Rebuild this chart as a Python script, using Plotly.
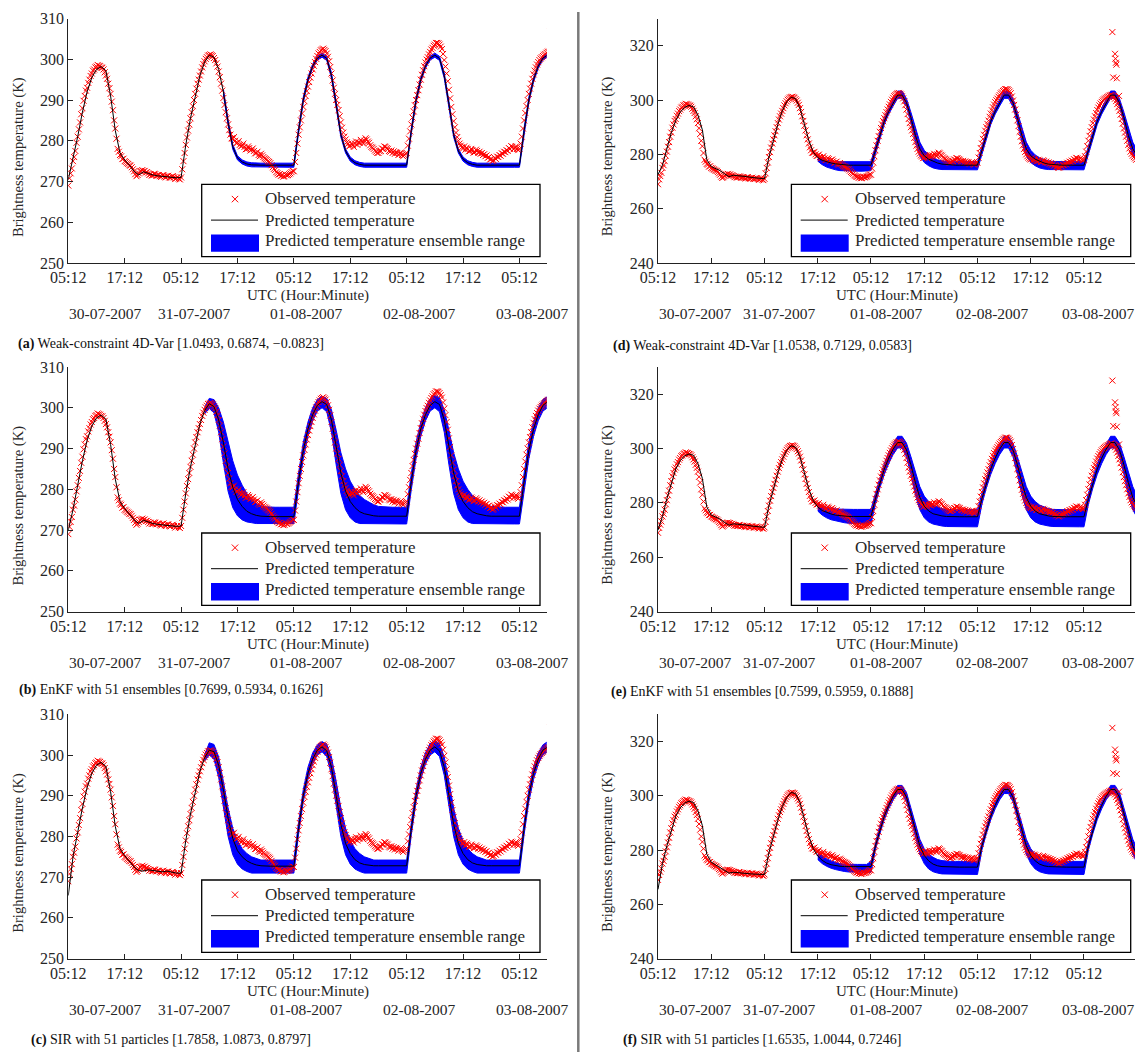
import plotly.graph_objects as go

W, H = 1135, 1052
FONT = "Liberation Serif"
TXT = "#262626"

# ---------------- axis labels ----------------
TICK_HOURS = [0, 12, 24, 36, 48, 60, 72, 84, 96]          # hours after 30-07-2007 05:12 UTC
TICK_TEXT = ["05:12", "17:12", "05:12", "17:12", "05:12", "17:12", "05:12", "17:12", "05:12"]
DATE_TEXT = ["30-07-2007", "31-07-2007", "01-08-2007", "02-08-2007", "03-08-2007"]
LEFT_Y_TICKS = [250, 260, 270, 280, 290, 300, 310]
RIGHT_Y_TICKS = [240, 260, 280, 300, 320]

# ---------------- observations (every 15 min from 05:12 on 30-07) ----------------
OBS_STEP_H = 0.25
OBS_TEMP = [
    # 30-07
    269.0, 270.8, 272.0, 273.2, 275.0, 276.0, 277.5, 279.5, 281.0, 282.8, 284.5, 286.5,
    288.0, 289.8, 291.0, 292.3, 293.0, 294.2, 295.0, 295.9, 296.5, 297.2, 297.5, 298.0,
    298.2, 298.6, 298.4, 298.3, 298.0, 297.9, 297.5, 296.8, 296.0, 295.2, 294.0, 292.9,
    291.5, 289.6, 287.5, 285.0, 283.0, 280.5, 278.0, 277.3, 276.5, 276.2, 275.5, 275.6,
    275.0, 274.8, 274.5, 274.3, 274.0, 273.9, 273.5, 273.0, 272.5, 271.8, 271.3, 271.6,
    272.0, 272.5, 272.6, 272.8, 272.5, 272.6, 272.2, 272.3, 272.0, 271.6, 271.8, 271.5,
    271.5, 271.9, 271.8, 271.4, 271.5, 271.6, 271.3, 271.1, 271.5, 271.6, 271.2, 271.0,
    271.3, 271.4, 271.0, 270.9, 271.2, 271.3, 271.0, 270.6, 270.8, 271.1, 270.7, 270.5,
    # 31-07
    271.0, 273.0, 275.0, 277.0, 279.0, 280.8, 282.5, 284.0, 285.5, 287.0, 288.5, 290.0,
    291.5, 292.8, 294.0, 295.0, 296.0, 297.0, 298.0, 298.8, 299.5, 300.1, 300.5, 300.9,
    301.0, 301.2, 301.0, 300.8, 300.3, 299.8, 299.0, 298.2, 297.0, 295.6, 294.0, 292.3,
    290.5, 288.8, 287.0, 285.5, 284.0, 282.6, 281.5, 280.6, 280.5, 280.9, 280.0, 279.4,
    279.5, 279.9, 279.0, 278.6, 278.8, 279.3, 278.5, 277.9, 278.0, 278.6, 278.2, 277.6,
    277.8, 278.1, 277.5, 276.9, 277.0, 277.3, 276.5, 276.2, 276.8, 276.4, 276.0, 275.7,
    275.5, 275.3, 275.0, 274.8, 274.5, 274.0, 273.5, 273.1, 272.8, 272.3, 272.0, 271.7,
    271.8, 271.4, 271.5, 271.2, 271.3, 271.7, 271.5, 271.6, 271.8, 272.0, 272.3, 272.6,
    # 01-08
    272.5, 274.8, 277.0, 279.3, 281.5, 283.3, 285.0, 286.7, 288.3, 289.7, 291.0, 292.2,
    293.3, 294.4, 295.5, 296.5, 297.5, 298.4, 299.3, 300.1, 300.8, 301.4, 301.8, 302.2,
    302.4, 302.6, 302.3, 302.0, 301.4, 300.6, 299.5, 298.1, 296.5, 294.8, 293.0, 291.5,
    290.0, 288.8, 287.5, 286.0, 284.5, 283.2, 282.0, 281.0, 280.3, 279.6, 279.2, 278.6,
    278.8, 279.4, 279.0, 278.5, 279.3, 279.8, 279.0, 279.6, 279.5, 280.2, 279.8, 279.3,
    280.0, 280.6, 280.3, 279.8, 279.5, 278.9, 278.5, 278.3, 278.0, 277.6, 277.3, 277.0,
    277.0, 277.4, 277.5, 278.1, 278.0, 278.6, 278.5, 278.2, 278.0, 277.5, 277.3, 277.6,
    277.0, 277.4, 276.8, 277.2, 277.0, 276.5, 276.8, 277.1, 276.5, 276.2, 276.5, 276.8,
    # 02-08
    277.0, 278.8, 280.5, 282.3, 284.0, 285.7, 287.2, 288.7, 290.0, 291.2, 292.4, 293.8,
    295.0, 296.2, 297.3, 298.3, 299.2, 299.9, 300.5, 301.2, 301.8, 302.4, 302.8, 303.3,
    303.6, 304.0, 304.0, 303.9, 303.6, 303.1, 302.5, 301.3, 299.8, 298.2, 296.5, 294.6,
    292.5, 290.4, 288.3, 286.5, 284.8, 283.3, 282.0, 280.9, 280.0, 279.3, 278.8, 278.4,
    278.1, 278.6, 277.8, 278.3, 278.0, 277.4, 277.5, 278.0, 277.7, 277.1, 277.2, 277.8,
    277.5, 277.0, 277.3, 276.8, 277.0, 276.5, 276.7, 276.2, 276.4, 275.8, 276.0, 275.4,
    275.5, 275.0, 275.2, 275.8, 275.5, 276.1, 276.0, 276.5, 276.3, 276.9, 276.8, 277.3,
    277.2, 277.7, 277.5, 278.2, 278.0, 278.7, 278.5, 277.9, 278.2, 278.6, 278.0, 277.7,
    # 03-08
    278.0, 279.3, 281.0, 283.0, 285.0, 286.8, 288.5, 290.0, 291.5, 292.8, 294.0, 295.2,
    296.3, 297.2, 298.0, 298.7, 299.3, 299.8, 300.2, 300.5, 300.8, 301.1, 301.3, 301.6,
    301.8, 301.9, 301.5, 301.1, 300.5, 299.6, 298.5, 297.3, 296.0, 294.6, 293.0, 291.3,
    289.5, 288.0, 286.5, 285.0, 283.5, 282.2, 281.0, 280.2, 279.5, 279.0, 278.5, 278.0,
]
OUTLIER_HOURS = [102.4, 102.6, 103.0, 103.1, 103.2, 103.3, 103.4, 103.9]
OUTLIER_TEMP = [325.0, 308.3, 317.0, 315.2, 313.7, 313.0, 308.0, 301.5]

# ---------------- predictions (hourly from 05:12 on 30-07) ----------------
# (a) Weak-constraint 4D-Var, left
A_PRED = [
    270.5, 275.5, 281.0, 287.0, 292.0, 295.5, 297.5, 298.2, 297.2, 291.0, 282.5, 277.0,
    275.3, 274.0, 272.5, 271.6, 272.4, 272.0, 271.6, 271.4, 271.3, 271.2, 271.0, 270.9,
    271.0, 279.0, 285.5, 291.0, 296.0, 299.3, 301.0, 300.5, 297.5, 292.0, 284.5, 278.5,
    275.8, 274.8, 274.3, 274.1, 274.0, 274.0, 274.0, 274.0, 274.0, 274.0, 274.0, 274.0,
    274.0, 282.5, 290.0, 295.0, 298.3, 300.3, 301.0, 300.2, 296.0, 289.0, 281.5, 277.5,
    275.5, 274.6, 274.2, 274.0, 274.0, 274.0, 274.0, 274.0, 274.0, 274.0, 274.0, 274.0,
    274.0, 282.5, 290.0, 295.0, 298.3, 300.3, 301.0, 300.2, 296.0, 289.0, 281.5, 277.5,
    275.5, 274.6, 274.2, 274.0, 274.0, 274.0, 274.0, 274.0, 274.0, 274.0, 274.0, 274.0,
    274.0, 282.5, 290.0, 295.0, 298.3, 300.3, 301.0,
]
A_BAND_START = 33
A_LO = [
    291.3, 283.8, 277.9, 275.3, 274.3, 273.8, 273.6, 273.5, 273.5, 273.5, 273.5, 273.5, 273.5, 273.5, 273.5,
    273.5, 281.8, 289.3, 294.4, 297.8, 299.8, 300.5, 299.7, 295.3, 288.3, 280.9, 277.0,
    275.0, 274.1, 273.7, 273.5, 273.5, 273.5, 273.5, 273.5, 273.5, 273.5, 273.5, 273.5,
    273.5, 281.8, 289.3, 294.4, 297.8, 299.8, 300.5, 299.7, 295.3, 288.3, 280.9, 277.0,
    275.0, 274.1, 273.7, 273.5, 273.5, 273.5, 273.5, 273.5, 273.5, 273.5, 273.5, 273.5,
    273.5, 281.8, 289.3, 294.4, 297.8, 299.8, 300.5,
]
A_HI = [
    292.7, 285.2, 279.1, 276.3, 275.3, 274.8, 274.6, 274.5, 274.5, 274.5, 274.5, 274.5, 274.5, 274.5, 274.5,
    274.5, 283.2, 290.7, 295.6, 298.8, 300.8, 301.5, 300.7, 296.7, 289.7, 282.1, 278.0,
    276.0, 275.1, 274.7, 274.5, 274.5, 274.5, 274.5, 274.5, 274.5, 274.5, 274.5, 274.5,
    274.5, 283.2, 290.7, 295.6, 298.8, 300.8, 301.5, 300.7, 296.7, 289.7, 282.1, 278.0,
    276.0, 275.1, 274.7, 274.5, 274.5, 274.5, 274.5, 274.5, 274.5, 274.5, 274.5, 274.5,
    274.5, 283.2, 290.7, 295.6, 298.8, 300.8, 301.5,
]

# (b) EnKF 51 ensembles, left
B_PRED = [
    270.0, 275.0, 281.0, 287.0, 292.0, 295.5, 297.5, 298.2, 297.2, 291.0, 282.5, 277.0,
    275.3, 274.0, 272.5, 271.6, 272.4, 272.0, 271.6, 271.4, 271.3, 271.2, 271.0, 270.9,
    271.0, 279.0, 285.5, 291.0, 296.0, 299.3, 301.0, 300.3, 297.0, 291.5, 285.0, 280.5,
    277.5, 275.8, 274.6, 274.0, 273.6, 273.4, 273.3, 273.3, 273.3, 273.3, 273.3, 273.3,
    273.3, 282.0, 289.5, 294.8, 298.3, 300.6, 301.5, 300.8, 297.0, 290.5, 284.0, 279.5,
    277.0, 275.5, 274.5, 274.0, 273.7, 273.5, 273.4, 273.4, 273.4, 273.4, 273.4, 273.4,
    273.4, 282.0, 289.5, 294.8, 298.3, 300.6, 301.5, 300.8, 297.0, 290.5, 284.0, 279.5,
    277.0, 275.5, 274.5, 274.0, 273.7, 273.5, 273.4, 273.4, 273.4, 273.4, 273.4, 273.4,
    273.4, 282.0, 289.5, 294.8, 298.3, 300.6, 301.5,
]
B_BAND_START = 29
B_LO = [
    298.5, 299.8, 298.8, 294.0, 286.5, 279.5, 275.5, 273.5, 272.5, 272.0, 271.8,
    271.6, 271.6, 271.6, 271.6, 271.6, 271.6, 271.6, 271.6,
    271.6, 280.0, 287.5, 293.0, 296.8, 299.2, 300.0, 299.0, 294.0, 286.0, 279.0, 275.0,
    273.0, 272.0, 271.6, 271.5, 271.5, 271.5, 271.5, 271.5, 271.5, 271.5, 271.5, 271.5,
    271.5, 280.0, 287.5, 293.0, 296.8, 299.2, 300.0, 299.0, 294.0, 286.0, 279.0, 275.0,
    273.0, 272.0, 271.6, 271.5, 271.5, 271.5, 271.5, 271.5, 271.5, 271.5, 271.5, 271.5,
    271.5, 280.0, 287.5, 293.0, 296.8, 299.2, 300.0,
]
B_HI = [
    300.0, 302.3, 302.0, 300.0, 296.5, 291.5, 287.0, 283.5, 281.0, 279.0, 277.5,
    276.5, 276.0, 275.7, 275.6, 275.6, 275.6, 275.6, 275.6,
    275.6, 284.0, 291.5, 296.5, 300.0, 302.0, 302.8, 302.3, 299.5, 294.5, 289.0, 285.0,
    282.0, 280.0, 278.5, 277.5, 276.8, 276.2, 275.8, 275.7, 275.6, 275.6, 275.6, 275.6,
    275.6, 284.0, 291.5, 296.5, 300.0, 302.2, 303.0, 302.5, 299.5, 294.5, 289.0, 285.0,
    282.0, 280.0, 278.5, 277.5, 276.8, 276.2, 275.8, 275.7, 275.6, 275.6, 275.6, 275.6,
    275.6, 284.0, 291.5, 296.5, 300.0, 302.0, 302.8,
]

# (c) SIR 51 particles, left
C_PRED = [
    265.5, 275.0, 281.0, 287.0, 292.0, 295.5, 297.5, 298.2, 297.2, 291.0, 282.5, 277.0,
    275.3, 274.0, 272.5, 271.6, 271.5, 271.8, 271.6, 271.4, 271.3, 271.5, 271.2, 271.0,
    271.0, 279.0, 285.5, 291.0, 296.0, 299.3, 301.2, 300.8, 297.5, 291.5, 284.5, 279.5,
    276.5, 275.0, 274.0, 273.4, 273.0, 272.8, 272.7, 272.7, 272.7, 272.7, 272.7, 272.7,
    272.7, 282.0, 290.0, 295.5, 299.0, 301.2, 302.0, 301.0, 297.0, 290.0, 283.0, 278.3,
    275.8, 274.3, 273.5, 273.1, 272.9, 272.8, 272.8, 272.8, 272.8, 272.8, 272.8, 272.8,
    272.8, 282.0, 290.0, 295.5, 299.0, 301.2, 302.0, 301.0, 297.0, 290.0, 283.0, 278.3,
    275.8, 274.3, 273.5, 273.1, 272.9, 272.8, 272.8, 272.8, 272.8, 272.8, 272.8, 272.8,
    272.8, 282.0, 290.0, 295.5, 299.0, 301.2, 302.0,
]
C_BAND_START = 29
C_LO = [
    298.5, 300.0, 299.0, 294.5, 287.5, 280.0, 275.5, 273.2, 272.0, 271.4,
    271.0, 271.0, 271.0, 271.0, 271.0, 271.0, 271.0, 271.0, 271.0,
    271.0, 280.5, 288.5, 294.0, 297.8, 300.0, 300.8, 299.6, 295.0, 287.5, 280.0, 275.5,
    273.2, 272.0, 271.4, 271.0, 271.0, 271.0, 271.0, 271.0, 271.0, 271.0, 271.0, 271.0,
    271.0, 280.5, 288.5, 294.0, 297.8, 300.0, 300.8, 299.6, 295.0, 287.5, 280.0, 275.5,
    273.2, 272.0, 271.4, 271.0, 271.0, 271.0, 271.0, 271.0, 271.0, 271.0, 271.0, 271.0,
    271.0, 280.5, 288.5, 294.0, 297.8, 300.0, 300.8,
]
C_HI = [
    300.0, 303.0, 302.6, 299.5, 293.5, 287.0, 282.0, 279.0, 277.0, 275.8, 275.0, 274.5,
    274.2, 274.2, 274.2, 274.2, 274.2, 274.2, 274.2,
    274.2, 283.5, 291.5, 297.0, 300.5, 302.5, 303.3, 302.6, 299.5, 293.5, 287.0, 282.0,
    279.0, 277.0, 275.8, 275.0, 274.5, 274.2, 274.2, 274.2, 274.2, 274.2, 274.2, 274.2,
    274.2, 283.5, 291.5, 297.0, 300.5, 302.8, 303.6, 302.8, 299.5, 293.5, 287.0, 282.0,
    279.0, 277.0, 275.8, 275.0, 274.5, 274.2, 274.2, 274.2, 274.2, 274.2, 274.2, 274.2,
    274.2, 283.5, 291.5, 297.0, 300.5, 302.5, 303.3,
]

# (d) Weak-constraint 4D-Var, right
D_PRED = [
    272.5, 276.0, 282.0, 288.0, 292.5, 295.5, 297.3, 298.0, 297.5, 294.5, 289.0, 278.0,
    275.5, 274.8, 274.0, 272.8, 271.8, 272.3, 272.2, 272.0, 271.8, 271.5, 271.3, 271.2,
    271.0, 279.0, 285.5, 291.0, 296.0, 299.3, 301.0, 300.5, 297.0, 291.0, 285.0, 280.8,
    278.8, 277.8, 277.2, 276.8, 276.5, 276.3, 276.1, 276.0, 276.0, 276.0, 276.0, 276.0,
    276.0, 281.5, 287.0, 292.2, 295.8, 298.8, 301.8, 301.8, 299.0, 293.5, 287.0, 282.0,
    279.5, 278.2, 277.4, 276.8, 276.4, 276.2, 276.0, 276.0, 276.0, 276.0, 276.0, 276.0,
    276.0, 281.5, 287.0, 292.2, 295.8, 298.8, 301.8, 301.8, 299.0, 293.5, 287.0, 282.0,
    279.5, 278.2, 277.4, 276.8, 276.4, 276.2, 276.0, 276.0, 276.0, 276.0, 276.0, 276.0,
    276.0, 281.5, 287.0, 292.2, 295.8, 298.8, 301.8, 301.8, 299.0, 293.5, 287.0, 282.0,
    279.5,
]
D_BAND_START = 36
D_LO = [
    277.5, 276.2, 275.3, 274.7, 274.3, 274.0, 273.8, 273.8, 273.8, 273.8, 273.8, 273.8,
    274.0, 280.0, 285.8, 291.0, 294.8, 297.8, 300.6, 300.6, 297.5, 291.5, 284.5, 279.5,
    277.0, 275.8, 275.0, 274.6, 274.4, 274.3, 274.3, 274.3, 274.3, 274.3, 274.3, 274.3,
    274.3, 280.0, 285.8, 291.0, 294.8, 297.8, 300.6, 300.6, 297.5, 291.5, 284.5, 279.5,
    277.0, 275.8, 275.0, 274.6, 274.4, 274.3, 274.3, 274.3, 274.3, 274.3, 274.3, 274.3,
    274.3, 280.0, 285.8, 291.0, 294.8, 297.8, 300.6, 300.6, 297.5, 291.5, 284.5, 279.5,
    277.0,
]
D_HI = [
    279.8, 278.6, 277.9, 277.5, 277.3, 277.3, 277.3, 277.3, 277.3, 277.3, 277.3, 277.3,
    277.3, 283.0, 288.5, 293.5, 297.0, 300.0, 303.3, 303.3, 300.5, 295.5, 289.5, 284.5,
    281.5, 279.8, 278.7, 278.0, 277.6, 277.4, 277.3, 277.3, 277.3, 277.3, 277.3, 277.3,
    277.3, 283.0, 288.5, 293.5, 297.0, 300.0, 303.3, 303.3, 300.5, 295.5, 289.5, 284.5,
    281.5, 279.8, 278.7, 278.0, 277.6, 277.4, 277.3, 277.3, 277.3, 277.3, 277.3, 277.3,
    277.3, 283.0, 288.5, 293.5, 297.0, 300.0, 303.3, 303.3, 300.5, 295.5, 289.5, 284.5,
    281.5,
]

# (e) EnKF 51 ensembles, right
E_PRED = [
    270.0, 275.0, 281.5, 287.5, 292.5, 295.5, 297.3, 298.0, 297.5, 294.5, 289.0, 278.5,
    275.5, 274.8, 274.0, 272.8, 271.8, 272.3, 272.2, 272.0, 271.8, 271.5, 271.3, 271.2,
    271.0, 279.0, 285.5, 291.0, 296.0, 299.3, 301.0, 300.5, 297.0, 291.0, 285.0, 280.8,
    278.5, 277.2, 276.4, 275.9, 275.5, 275.3, 275.1, 275.0, 275.0, 275.0, 275.0, 275.0,
    275.0, 281.5, 287.5, 292.5, 296.5, 299.8, 302.2, 302.2, 299.5, 294.0, 287.5, 282.0,
    278.8, 277.0, 276.0, 275.5, 275.2, 275.0, 274.9, 274.9, 274.9, 274.9, 274.9, 274.9,
    274.9, 281.5, 287.5, 292.5, 296.5, 299.8, 302.2, 302.2, 299.5, 294.0, 287.5, 282.0,
    278.8, 277.0, 276.0, 275.5, 275.2, 275.0, 274.9, 274.9, 274.9, 274.9, 274.9, 274.9,
    274.9, 281.5, 287.5, 292.5, 296.5, 299.8, 302.2, 302.2, 299.5, 294.0, 287.5, 282.0,
    278.8,
]
E_BAND_START = 36
E_LO = [
    277.0, 275.5, 274.5, 273.8, 273.3, 273.0, 272.7, 272.5, 272.4, 272.3, 272.3, 272.3,
    272.3, 279.5, 285.5, 290.5, 294.5, 297.8, 300.2, 300.2, 297.0, 290.5, 283.0, 277.5,
    274.5, 273.0, 272.2, 271.8, 271.5, 271.3, 271.2, 271.2, 271.2, 271.2, 271.2, 271.2,
    271.2, 279.5, 285.5, 290.5, 294.5, 297.8, 300.2, 300.2, 297.0, 290.5, 283.0, 277.5,
    274.5, 273.0, 272.2, 271.8, 271.5, 271.3, 271.2, 271.2, 271.2, 271.2, 271.2, 271.2,
    271.2, 279.5, 285.5, 290.5, 294.5, 297.8, 300.2, 300.2, 297.0, 290.5, 283.0, 277.5,
    274.5,
]
E_HI = [
    280.0, 279.0, 278.4, 278.0, 277.8, 277.7, 277.6, 277.6, 277.6, 277.6, 277.6, 277.6,
    277.6, 283.5, 289.5, 294.5, 298.5, 301.8, 304.5, 304.5, 302.0, 297.0, 291.5, 286.0,
    282.5, 280.5, 279.2, 278.4, 277.9, 277.6, 277.5, 277.5, 277.5, 277.5, 277.5, 277.5,
    277.5, 283.5, 289.5, 294.5, 298.5, 301.8, 304.5, 304.5, 302.0, 297.0, 291.5, 286.0,
    282.5, 280.5, 279.2, 278.4, 277.9, 277.6, 277.5, 277.5, 277.5, 277.5, 277.5, 277.5,
    277.5, 283.5, 289.5, 294.5, 298.5, 301.8, 304.5, 304.5, 302.0, 297.0, 291.5, 286.0,
    282.5,
]

# (f) SIR 51 particles, right
F_PRED = [
    265.5, 275.0, 281.5, 287.5, 292.5, 295.5, 297.3, 298.0, 297.5, 294.5, 289.0, 278.5,
    275.5, 274.5, 273.5, 272.2, 271.5, 271.8, 271.6, 271.4, 271.3, 271.2, 271.1, 271.0,
    271.0, 279.0, 285.5, 291.0, 296.0, 299.3, 301.2, 300.8, 297.5, 291.5, 285.0, 280.5,
    277.8, 276.2, 275.2, 274.6, 274.2, 274.0, 273.9, 273.9, 273.9, 273.9, 273.9, 273.9,
    273.9, 281.5, 287.5, 292.5, 296.5, 299.8, 302.3, 302.3, 299.5, 293.5, 287.0, 281.5,
    278.0, 276.0, 274.8, 274.2, 273.9, 273.8, 273.7, 273.7, 273.7, 273.7, 273.7, 273.7,
    273.7, 281.5, 287.5, 292.5, 296.5, 299.8, 302.3, 302.3, 299.5, 293.5, 287.0, 281.5,
    278.0, 276.0, 274.8, 274.2, 273.9, 273.8, 273.7, 273.7, 273.7, 273.7, 273.7, 273.7,
    273.7, 281.5, 287.5, 292.5, 296.5, 299.8, 302.3, 302.3, 299.5, 293.5, 287.0, 281.5,
    278.0,
]
F_BAND_START = 36
F_LO = [
    276.5, 275.0, 274.0, 273.3, 272.8, 272.4, 272.1, 271.9, 271.8, 271.8, 271.8, 271.8,
    271.8, 280.0, 286.0, 291.2, 295.2, 298.5, 300.8, 300.8, 297.8, 291.5, 284.5, 278.5,
    275.0, 273.0, 272.0, 271.5, 271.2, 271.0, 271.0, 271.0, 271.0, 271.0, 271.0, 271.0,
    271.0, 280.0, 286.0, 291.2, 295.2, 298.5, 300.8, 300.8, 297.8, 291.5, 284.5, 278.5,
    275.0, 273.0, 272.0, 271.5, 271.2, 271.0, 271.0, 271.0, 271.0, 271.0, 271.0, 271.0,
    271.0, 280.0, 286.0, 291.2, 295.2, 298.5, 300.8, 300.8, 297.8, 291.5, 284.5, 278.5,
    275.0,
]
F_HI = [
    279.0, 277.8, 276.8, 276.0, 275.4, 275.0, 274.8, 274.7, 274.7, 274.7, 274.7, 274.7,
    275.8, 283.0, 289.0, 294.0, 297.8, 301.0, 303.8, 303.8, 301.2, 295.5, 289.3, 284.0,
    280.5, 278.5, 277.3, 276.5, 276.1, 275.9, 275.8, 275.8, 275.8, 275.8, 275.8, 275.8,
    275.8, 283.0, 289.0, 294.0, 297.8, 301.0, 303.8, 303.8, 301.2, 295.5, 289.3, 284.0,
    280.5, 278.5, 277.3, 276.5, 276.1, 275.9, 275.8, 275.8, 275.8, 275.8, 275.8, 275.8,
    275.8, 283.0, 289.0, 294.0, 297.8, 301.0, 303.8, 303.8, 301.2, 295.5, 289.3, 284.0,
    280.5,
]

CAPTIONS = {
    "a": "<b>(a)</b> Weak-constraint 4D-Var [1.0493, 0.6874, \u22120.0823]",
    "b": "<b>(b)</b> EnKF with 51 ensembles [0.7699, 0.5934, 0.1626]",
    "c": "<b>(c)</b> SIR with 51 particles [1.7858, 1.0873, 0.8797]",
    "d": "<b>(d)</b> Weak-constraint 4D-Var [1.0538, 0.7129, 0.0583]",
    "e": "<b>(e)</b> EnKF with 51 ensembles [0.7599, 0.5959, 0.1888]",
    "f": "<b>(f)</b> SIR with 51 particles [1.6535, 1.0044, 0.7246]",
}
LEGEND_TEXT = ["Observed temperature", "Predicted temperature", "Predicted temperature ensemble range"]

PANELS = [
    dict(key="a", row=0, side="L", pred=A_PRED, start=A_BAND_START, lo=A_LO, hi=A_HI),
    dict(key="b", row=1, side="L", pred=B_PRED, start=B_BAND_START, lo=B_LO, hi=B_HI),
    dict(key="c", row=2, side="L", pred=C_PRED, start=C_BAND_START, lo=C_LO, hi=C_HI),
    dict(key="d", row=0, side="R", pred=D_PRED, start=D_BAND_START, lo=D_LO, hi=D_HI),
    dict(key="e", row=1, side="R", pred=E_PRED, start=E_BAND_START, lo=E_LO, hi=E_HI),
    dict(key="f", row=2, side="R", pred=F_PRED, start=F_BAND_START, lo=F_LO, hi=F_HI),
]

# ---------------- layout geometry (pixels) ----------------
ROWS_PX = [(18.5, 263.0), (367.0, 611.6), (714.3, 958.6)]
COLS_PX = {"L": (68.3, 546.7), "R": (658.0, 1135.0)}
X_RANGE = {"L": [0, 101.8], "R": [0, 107.5]}
Y_RANGE = {"L": [250, 310], "R": [240, 330]}
Y_TICKS = {"L": LEFT_Y_TICKS, "R": RIGHT_Y_TICKS}
LEG_RIGHT = {"L": 540.0, "R": 1130.7}
CAP_X = {"L": 171.0, "R": 762.0}
CAP_Y = {"L": [344.0, 690.0, 1039.5], "R": [346.0, 692.0, 1040.0]}
DATE_X = {"L": [105.3, 194.2, 306.7, 419.7, 532.2], "R": [695.3, 779.3, 886.0, 992.5, 1098.5]}
YTITLE_X = {"L": 18.3, "R": 607.5}


def px(x):
    return x / W


def py(y):
    return 1 - y / H


fig = go.Figure()
shapes, annotations = [], []
layout = {}

obs_hours = [OBS_STEP_H * i for i in range(len(OBS_TEMP))] + OUTLIER_HOURS
obs_vals = OBS_TEMP + OUTLIER_TEMP

for i, p in enumerate(PANELS):
    n = "" if i == 0 else str(i + 1)
    xa, ya = "x" + n, "y" + n
    side = p["side"]
    top, bottom = ROWS_PX[p["row"]]
    left, right = COLS_PX[side]

    band_x = [p["start"] + k for k in range(len(p["lo"]))]
    fig.add_trace(go.Scatter(
        x=band_x + band_x[::-1], y=p["hi"] + p["lo"][::-1],
        fill="toself", fillcolor="#0000ff", mode="lines",
        line=dict(color="#0000ff", width=1), xaxis=xa, yaxis=ya,
        showlegend=False, hoverinfo="skip"))
    fig.add_trace(go.Scatter(
        x=obs_hours, y=obs_vals, mode="markers",
        marker=dict(symbol="x-thin", size=6, line=dict(width=1, color="#ff0000"), color="#ff0000"),
        xaxis=xa, yaxis=ya, showlegend=False))
    pred_x = list(range(len(p["pred"])))
    fig.add_trace(go.Scatter(
        x=pred_x, y=p["pred"], mode="lines", line=dict(color="black", width=1),
        xaxis=xa, yaxis=ya, showlegend=False))

    common = dict(showline=True, linecolor="#222", linewidth=1, ticks="inside", ticklen=5,
                  tickwidth=1, tickcolor="#222", showgrid=False, zeroline=False, mirror=False,
                  automargin=False, tickfont=dict(family=FONT, size=16, color=TXT))
    layout["xaxis" + n] = dict(domain=[px(left), px(right)], range=X_RANGE[side], anchor=ya,
                               tickvals=TICK_HOURS, ticktext=TICK_TEXT, **common)
    layout["yaxis" + n] = dict(domain=[py(bottom), py(top)], range=Y_RANGE[side], anchor=xa,
                               tickvals=Y_TICKS[side], **common)

    annotations.append(dict(text="Brightness temperature (K)", textangle=-90, x=px(YTITLE_X[side]),
                            y=py((top + bottom) / 2 + 16), xref="paper", yref="paper", showarrow=False,
                            xanchor="center", yanchor="middle", font=dict(family=FONT, size=14.6, color=TXT)))
    annotations.append(dict(text="UTC (Hour:Minute)", x=px((left + right) / 2), y=py(bottom + 33),
                            xref="paper", yref="paper", showarrow=False, xanchor="center", yanchor="middle",
                            font=dict(family=FONT, size=15, color=TXT)))
    for dx, dt in zip(DATE_X[side], DATE_TEXT):
        annotations.append(dict(text=dt, x=px(dx), y=py(bottom + 51), xref="paper", yref="paper",
                                showarrow=False, xanchor="center", yanchor="middle",
                                font=dict(family=FONT, size=15.5, color=TXT)))
    annotations.append(dict(text=CAPTIONS[p["key"]], x=px(CAP_X[side]), y=py(CAP_Y[side][p["row"]]),
                            xref="paper", yref="paper", showarrow=False, xanchor="center", yanchor="middle",
                            font=dict(family=FONT, size=14, color="#111")))

    # legend box
    lb = bottom - 6.3
    lt = lb - 72.3
    ll = left + 133.4
    lr = LEG_RIGHT[side]
    shapes.append(dict(type="rect", xref="paper", yref="paper", x0=px(ll), x1=px(lr), y0=py(lb), y1=py(lt),
                       line=dict(color="black", width=1.3), fillcolor="white"))
    cx, cy, s = ll + 33.3, lt + 14.7, 3.2
    shapes.append(dict(type="line", xref="paper", yref="paper", x0=px(cx - s), x1=px(cx + s),
                       y0=py(cy - s), y1=py(cy + s), line=dict(color="#ff0000", width=1)))
    shapes.append(dict(type="line", xref="paper", yref="paper", x0=px(cx - s), x1=px(cx + s),
                       y0=py(cy + s), y1=py(cy - s), line=dict(color="#ff0000", width=1)))
    shapes.append(dict(type="line", xref="paper", yref="paper", x0=px(ll + 9.3), x1=px(ll + 56.3),
                       y0=py(lt + 35.7), y1=py(lt + 35.7), line=dict(color="black", width=1)))
    shapes.append(dict(type="rect", xref="paper", yref="paper", x0=px(ll + 9.3), x1=px(ll + 57.3),
                       y0=py(lt + 67.4), y1=py(lt + 50.0), line=dict(width=0), fillcolor="#0000ff"))
    for ty, tt in zip([14.0, 35.7, 56.4], LEGEND_TEXT):
        annotations.append(dict(text=tt, x=px(ll + 61.3), y=py(lt + ty), xref="paper", yref="paper",
                                showarrow=False, xanchor="left", yanchor="middle",
                                font=dict(family=FONT, size=17, color=TXT)))

# vertical separator
shapes.append(dict(type="line", xref="paper", yref="paper", x0=px(578.3), x1=px(578.3),
                   y0=py(12), y1=0, line=dict(color="#7a7a7a", width=2.5)))

fig.update_layout(width=W, height=H, margin=dict(l=0, r=0, t=0, b=0, pad=0, autoexpand=False),
                  paper_bgcolor="white", plot_bgcolor="white", showlegend=False,
                  shapes=shapes, annotations=annotations, **layout)

fig.write_html("out.html", config={"displayModeBar": False},
               post_script="document.body.style.margin='0px';document.body.style.overflow='hidden';")
